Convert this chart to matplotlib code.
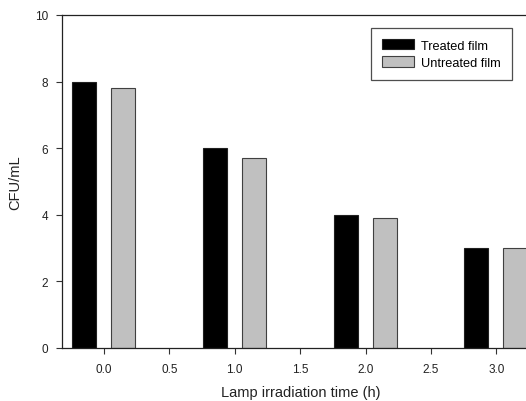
import matplotlib
matplotlib.use("Agg")
import matplotlib.pyplot as plt
import numpy as np

plt.rcParams['font.family'] = ['Liberation Sans', 'DejaVu Sans']

times = [0.0, 1.0, 2.0, 3.0]
treated = [8.0, 6.0, 4.0, 3.0]
untreated = [7.8, 5.7, 3.9, 3.0]
xticks = [0.0, 0.5, 1.0, 1.5, 2.0, 2.5, 3.0]
yticks = [0, 2, 4, 6, 8, 10]

fig = plt.figure(figsize=(5.26, 4.02), dpi=100)
ax = fig.add_axes([62/526, 53/402, 477/526, 333/402])

t = np.array(times)
w = 0.183
ax.bar(t - 0.152, treated, width=w, color='black', edgecolor='#202020', linewidth=0.8, label='Treated film')
ax.bar(t + 0.146, untreated, width=w, color='#c0c0c0', edgecolor='#404040', linewidth=0.8, label='Untreated film')

ax.set_xlim(-0.32, 3.326)
ax.set_ylim(0, 10)
ax.set_xticks(xticks)
ax.set_xticklabels([f"{v:.1f}" for v in xticks])
ax.set_yticks(yticks)
ax.tick_params(direction='out', length=4, width=0.8, labelsize=8.5, color='#333333', labelcolor='#222222')
ax.tick_params(axis='x', pad=7)
ax.tick_params(axis='y', pad=6)
for s in ax.spines.values():
    s.set_linewidth(0.9)
    s.set_color('#222222')

ax.set_xlabel('Lamp irradiation time (h)', fontsize=10.5, labelpad=7, color='#222222')
ax.set_ylabel('CFU/mL', fontsize=10.5, labelpad=9, color='#222222')

leg = ax.legend(loc='upper right', bbox_to_anchor=(0.943, 0.961), fontsize=9.2,
                frameon=True, fancybox=False, handlelength=2.5, handleheight=0.9,
                handletextpad=0.6, borderpad=0.85, labelspacing=0.35, borderaxespad=0)
leg.get_frame().set_edgecolor('#222222')
leg.get_frame().set_linewidth(0.9)

fig.savefig('out.png', dpi=100)
